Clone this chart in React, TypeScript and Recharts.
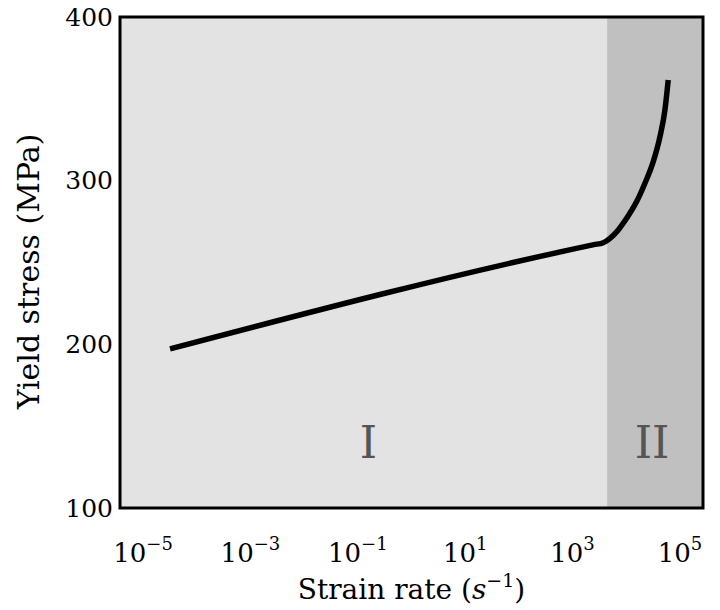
import React from 'react'
import { ComposedChart, Line, XAxis, YAxis, ReferenceArea, Label } from 'recharts'

// strain rate (1/s) and yield stress (MPa)
const strainRate = [3.18e-5, 2500, 3730, 4980, 7100, 10160, 15630, 22300, 31840, 42500, 52600, 60500]
const yieldStress = [197.2, 260.9, 262.1, 264.8, 269.9, 277, 287.2, 298.4, 311.6, 326.9, 343.2, 361.5]

const xTicks = [1e-5, 1e-3, 1e-1, 1e1, 1e3, 1e5]
const yTicks = [100, 200, 300, 400]

const xDomain: [number, number] = [3.72e-6, 2.69e5]
const yDomain: [number, number] = [100, 400]
const regionSplit = 4400

const regions = [
  { name: 'I', from: xDomain[0], to: regionSplit, fill: '#e3e3e3', labelShift: 5 },
  { name: 'II', from: regionSplit, to: xDomain[1], fill: '#c0c0c0', labelShift: -3 }
]

const data = strainRate.map((x, i) => ({ x, y: yieldStress[i] }))

const FONT = 'DejaVu Serif'

const XTick = ({ x, y, payload }: any) => {
  const exp = Math.round(Math.log10(payload.value))
  const sup = exp < 0 ? `\u2212${-exp}` : `${exp}`
  return (
    <text x={x} y={y + 46} textAnchor="middle" fontFamily={FONT} fontSize={26} fill="#000">
      <tspan>10</tspan>
      <tspan dy={-12} fontSize={18}>{sup}</tspan>
    </text>
  )
}

const YTick = ({ x, y, payload }: any) => (
  <text x={x + 1} y={y} textAnchor="end" dominantBaseline="central" fontFamily={FONT} fontSize={25} fill="#000">
    {payload.value}
  </text>
)

const RegionLabel = (shift: number, text: string) => ({ viewBox }: any) => {
  if (!viewBox) return null
  const cx = viewBox.x + viewBox.width / 2 + shift
  return (
    <text x={cx} y={viewBox.y + viewBox.height - 50} textAnchor="middle" fontFamily={FONT} fontSize={44} fill="#555">
      {text}
    </text>
  )
}

const XTitle = ({ viewBox }: any) => {
  if (!viewBox) return null
  return (
    <text x={viewBox.x + viewBox.width / 2} y={viewBox.y + 91} textAnchor="middle" fontFamily={FONT} fontSize={28} fill="#000">
      <tspan>Strain rate (</tspan>
      <tspan fontStyle="italic">s</tspan>
      <tspan dy={-12} fontSize={19}>{'\u22121'}</tspan>
      <tspan dy={12}>)</tspan>
    </text>
  )
}

const YTitle = ({ viewBox }: any) => {
  if (!viewBox) return null
  const cx = 28
  const cy = viewBox.y + viewBox.height / 2 + 9
  return (
    <text x={cx} y={cy} transform={`rotate(-90 ${cx} ${cy})`} textAnchor="middle" dominantBaseline="central" fontFamily={FONT} fontSize={30} fill="#000">
      Yield stress (MPa)
    </text>
  )
}

export default function App() {
  return (
    <div style={{ position: 'fixed', left: 0, top: 0, width: 720, height: 610, background: '#fff' }}>
      <ComposedChart width={720} height={610} data={data} margin={{ top: 17, right: 17, bottom: 42, left: 60 }}>
        <XAxis
          dataKey="x"
          type="number"
          scale="log"
          domain={xDomain}
          ticks={xTicks}
          allowDataOverflow
          axisLine={false}
          tickLine={false}
          tick={<XTick />}
          height={60}
          interval={0}
        >
          <Label content={<XTitle />} />
        </XAxis>
        <YAxis
          type="number"
          domain={yDomain}
          ticks={yTicks}
          axisLine={false}
          tickLine={false}
          tick={<YTick />}
          width={60}
          interval={0}
        >
          <Label content={<YTitle />} />
        </YAxis>
        {regions.map((r) => (
          <ReferenceArea key={r.name} x1={r.from} x2={r.to} y1={yDomain[0]} y2={yDomain[1]} fill={r.fill} fillOpacity={1} stroke="none">
            <Label content={RegionLabel(r.labelShift, r.name)} />
          </ReferenceArea>
        ))}
        <Line
          dataKey="y"
          type="monotone"
          stroke="#000"
          strokeWidth={5.5}
          dot={false}
          isAnimationActive={false}
        />
        <ReferenceArea x1={xDomain[0]} x2={xDomain[1]} y1={yDomain[0]} y2={yDomain[1]} fill="none" stroke="#000" strokeWidth={3} />
      </ComposedChart>
    </div>
  )
}
